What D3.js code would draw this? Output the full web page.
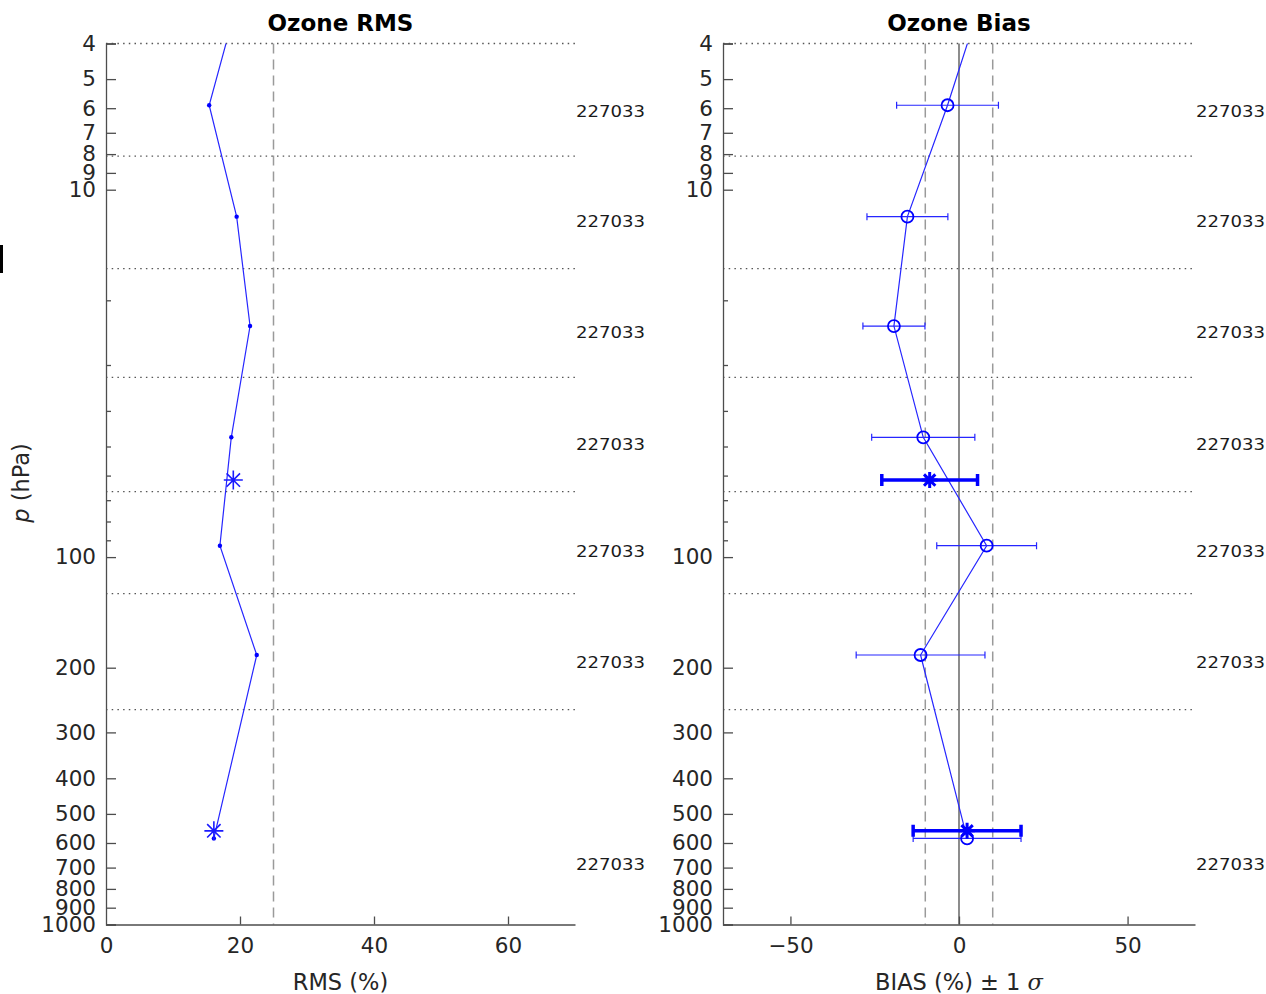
<!DOCTYPE html>
<html lang="en">
<head>
  <meta charset="UTF-8">
  <title>Ozone RMS / Bias</title>
  <style>
    body { margin: 0; background: #fff; }
    svg { display: block; font-family: "DejaVu Sans", sans-serif; }
    .axis path, .axis line { stroke: #4d4d4d; stroke-width: 1.3px; }
    .axis text { fill: #262626; font-size: 21.5px; font-family: "DejaVu Sans", sans-serif; }
    .layer { stroke: #555; stroke-width: 1.3px; stroke-dasharray: 1.5,4.2; }
    .ref-dash { stroke: #9a9a9a; stroke-width: 1.5px; stroke-dasharray: 10,6; }
    .ref-zero { stroke: #808080; stroke-width: 1.8px; }
    .thin { stroke: #2626ff; stroke-width: 1.2px; fill: none; }
    .bold { stroke: #0000ff; stroke-width: 3.5px; fill: none; }
    .title { font-size: 23px; font-weight: bold; fill: #000; }
    .label { font-size: 22.5px; fill: #262626; }
    .count { font-size: 16.5px; fill: #1a1a1a; }
  </style>
</head>
<body>
  <script src="https://cdnjs.cloudflare.com/ajax/libs/d3/7.8.5/d3.min.js"></script>
  <script>
    // pressure axis
    const pressureTicks = [4, 5, 6, 7, 8, 9, 10, 100, 200, 300, 400, 500, 600, 700, 800, 900, 1000];
    const minorTicks = [20, 30, 40, 50, 60, 70, 80, 90];
    const layerEdges = [4, 8.1, 16.4, 32.4, 66.3, 125.7, 260];

    // layer profile (first point lies above 4 hPa, off the plot)
    const profileP = [2.9, 5.89, 11.84, 23.5, 47.2, 93.1, 184.7, 583];
    const rmsValues = [20.0, 15.4, 19.5, 21.5, 18.7, 17.0, 22.5, 16.1];
    const biasValues = [7.4, -3.4, -15.3, -19.3, -10.6, 8.2, -11.4, 2.4];
    const biasSigma = [15, 15.1, 12.0, 9.2, 15.3, 14.8, 19.1, 16.0];

    // summary values (asterisks)
    const summaryP = [61.7, 556];
    const summaryRms = [19.0, 16.1];
    const summaryBias = [-8.7, 2.4];
    const summarySigma = [14.2, 16.0];

    // counts per layer
    const countP = [6.1, 12.2, 24.4, 49.2, 96.2, 193, 684];
    const countLabels = ["227033", "227033", "227033", "227033", "227033", "227033", "227033"];

    const rmsRef = [25];
    const biasRef = [-10, 10];

    const W = 1266, H = 994;
    const yTop = 43.5, yBottom = 924.5;
    const svg = d3.select("body").append("svg").attr("width", W).attr("height", H);

    const y = d3.scaleLog().domain([4, 1000]).range([yTop, yBottom]);

    const panels = [
      {key: "rms", title: "Ozone RMS", x: d3.scaleLinear().domain([0, 70]).range([106, 575]),
       xticks: [0, 20, 40, 60], xlabel: "RMS (%)"},
      {key: "bias", title: "Ozone Bias", x: d3.scaleLinear().domain([-70, 70]).range([723, 1195]),
       xticks: [-50, 0, 50], xlabel: "BIAS (%)"}
    ];

    function star(r) {
      const a = r * 0.707;
      return `M${-r},0L${r},0M0,${-r}L0,${r}M${-a},${-a}L${a},${a}M${-a},${a}L${a},${-a}`;
    }

    panels.forEach((pn, i) => {
      const x = pn.x;
      const [x0, x1] = x.range();
      const g = svg.append("g");

      svg.append("defs").append("clipPath").attr("id", "clip-" + pn.key)
        .append("rect").attr("x", x0 - 20).attr("y", yTop).attr("width", x1 - x0 + 40).attr("height", yBottom - yTop);

      // reference lines
      if (pn.key === "rms") {
        g.selectAll(".ref-dash").data(rmsRef).enter().append("line").attr("class", "ref-dash")
          .attr("x1", d => x(d)).attr("x2", d => x(d)).attr("y1", yTop).attr("y2", yBottom);
      } else {
        g.selectAll(".ref-dash").data(biasRef).enter().append("line").attr("class", "ref-dash")
          .attr("x1", d => x(d)).attr("x2", d => x(d)).attr("y1", yTop).attr("y2", yBottom);
        g.append("line").attr("class", "ref-zero")
          .attr("x1", x(0)).attr("x2", x(0)).attr("y1", yTop).attr("y2", yBottom);
      }

      // layer boundaries
      g.selectAll(".layer").data(layerEdges).enter().append("line").attr("class", "layer")
        .attr("x1", x0).attr("x2", x1).attr("y1", d => y(d)).attr("y2", d => y(d));

      // axes
      g.append("g").attr("class", "axis").attr("transform", `translate(${x0},0)`)
        .call(d3.axisLeft(y).tickValues(pressureTicks).tickFormat(d3.format("d")).tickSize(-10).tickPadding(10));
      g.append("g").attr("class", "axis").attr("transform", `translate(${x0},0)`)
        .call(d3.axisLeft(y).tickValues(minorTicks).tickFormat("").tickSize(-5).tickSizeOuter(0))
        .select(".domain").remove();
      const xa = g.append("g").attr("class", "axis").attr("transform", `translate(0,${yBottom})`)
        .call(d3.axisBottom(x).tickValues(pn.xticks).tickSize(-8).tickSizeOuter(0).tickPadding(13)
          .tickFormat(d => d < 0 ? "\u2212" + Math.abs(d) : d));
      xa.selectAll(".tick line").filter(d => x(d) === x0).remove();

      // title
      g.append("text").attr("class", "title").attr("x", (x0 + x1) / 2).attr("y", 31)
        .attr("text-anchor", "middle").text(pn.title);

      // x label
      const xl = g.append("text").attr("class", "label").attr("x", x(pn.key === "rms" ? 35 : 0)).attr("y", 990)
        .attr("text-anchor", "middle").text(pn.xlabel);
      if (pn.key === "bias") {
        xl.append("tspan").text(" \u00b1 1 ");
        xl.append("tspan").attr("font-style", "italic").attr("font-family", "DejaVu Serif").text("\u03c3");
      }

      // counts
      g.selectAll(".count").data(countP).enter().append("text").attr("class", "count")
        .attr("x", x1 + 1).attr("y", d => y(d)).attr("dy", "0.36em")
        .attr("textLength", 69).attr("lengthAdjust", "spacingAndGlyphs")
        .text((d, j) => countLabels[j]);

      const plot = g.append("g").attr("clip-path", `url(#clip-${pn.key})`);
      const vals = pn.key === "rms" ? rmsValues : biasValues;
      const pts = profileP.map((p, j) => ({p, v: vals[j], s: biasSigma[j]}));
      const line = d3.line().x(d => x(d.v)).y(d => y(d.p));

      plot.append("path").attr("class", "thin").attr("d", line(pts));

      if (pn.key === "rms") {
        plot.selectAll(".dot").data(pts.filter(d => d.p >= 4)).enter().append("circle")
          .attr("cx", d => x(d.v)).attr("cy", d => y(d.p)).attr("r", 2.2).attr("fill", "#0000ff");
        plot.selectAll(".star").data(summaryP).enter().append("path")
          .attr("transform", (d, j) => `translate(${x(summaryRms[j])},${y(d)})`)
          .attr("d", star(9.5)).attr("stroke", "#1a1aff").attr("stroke-width", 1.6).attr("fill", "none");
      } else {
        const cap = 3.5;
        const eb = plot.selectAll(".eb").data(pts.filter(d => d.p >= 4)).enter().append("g");
        eb.append("path").attr("class", "thin").attr("stroke-width", 1)
          .attr("d", d => {
            const l = x(d.v - d.s), r = x(d.v + d.s), yy = y(d.p);
            return `M${l},${yy}H${r}M${l},${yy - cap}V${yy + cap}M${r},${yy - cap}V${yy + cap}`;
          });
        eb.append("circle").attr("cx", d => x(d.v)).attr("cy", d => y(d.p)).attr("r", 6)
          .attr("fill", "none").attr("stroke", "#0000ff").attr("stroke-width", 1.8);

        const sb = plot.selectAll(".sb").data(summaryP).enter().append("g");
        sb.append("path").attr("class", "bold")
          .attr("d", (d, j) => {
            const l = x(summaryBias[j] - summarySigma[j]), r = x(summaryBias[j] + summarySigma[j]), yy = y(d);
            return `M${l},${yy}H${r}M${l},${yy - 6}V${yy + 6}M${r},${yy - 6}V${yy + 6}`;
          });
        sb.append("path")
          .attr("transform", (d, j) => `translate(${x(summaryBias[j])},${y(d)})`)
          .attr("d", star(8)).attr("stroke", "#0000ff").attr("stroke-width", 3).attr("fill", "none");
      }
    });

    // y label
    const yl = svg.append("text").attr("class", "label").attr("font-size", 23)
      .attr("transform", "translate(29,483) rotate(-90)").attr("text-anchor", "middle");
    yl.append("tspan").attr("font-style", "italic").text("p");
    yl.append("tspan").text(" (hPa)");

    // small mark at the left edge of the figure
    svg.append("rect").attr("x", 0).attr("y", 245).attr("width", 3).attr("height", 28).attr("fill", "#000");
  </script>
</body>
</html>
